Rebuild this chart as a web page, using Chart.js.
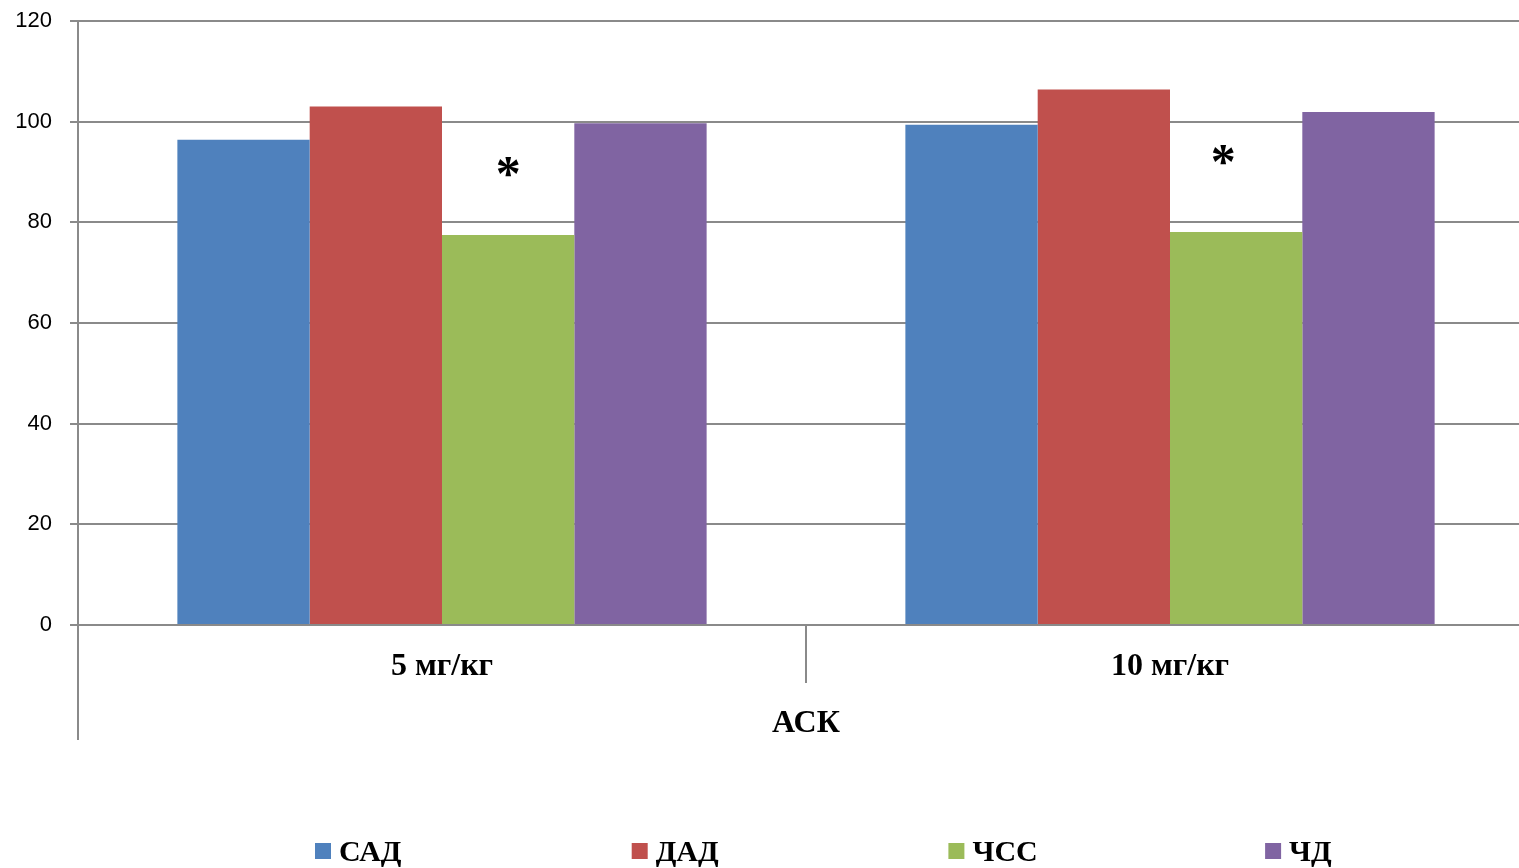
<!DOCTYPE html>
<html lang="ru">
<head>
<meta charset="utf-8">
<title>АСК</title>
<script src="https://cdn.jsdelivr.net/npm/chart.js@4.4.1/dist/chart.umd.min.js"></script>
<style>
  html, body { margin: 0; padding: 0; background: #fff; overflow: hidden; }
  #wrap { width: 1534px; height: 868px; }
</style>
</head>
<body>
<div id="wrap"><canvas id="c" width="1534" height="868"></canvas></div>
<script>
// Categories (dose) and axis title
const categories = ['5 мг/кг', '10 мг/кг'];
const axisTitle = 'АСК';

// Series values, % of baseline
const sad = [96.4, 99.4];   // САД
const dad = [103.0, 106.4]; // ДАД
const chss = [77.5, 78.1];  // ЧСС
const chd = [99.7, 101.9];  // ЧД

const seriesNames = ['САД', 'ДАД', 'ЧСС', 'ЧД'];
const seriesColors = ['#4F81BD', '#C0504D', '#9BBB59', '#8064A2'];

// Significance marks per series (one entry per category)
const chssMarks = ['*', '*'];

// Y-axis ticks
const yTicks = [0, 20, 40, 60, 80, 100, 120];

const gridColor = '#8a8a8a';
const serif = '"Liberation Serif", "Times New Roman", serif';

const datasets = [sad, dad, chss, chd].map((vals, i) => ({
  label: seriesNames[i],
  data: vals,
  backgroundColor: seriesColors[i],
  borderWidth: 0,
  marks: i === 2 ? chssMarks : null
}));

// Draws the asterisks above marked bars, the axis extension line and the legend row
const extras = {
  id: 'extras',
  afterDatasetsDraw(chart, args, opts) {
    const ctx = chart.ctx;
    const size = 50;
    ctx.save();
    ctx.fillStyle = '#000';
    ctx.font = 'bold ' + size + 'px ' + serif;
    ctx.textAlign = 'center';
    ctx.textBaseline = 'alphabetic';
    chart.data.datasets.forEach((ds, di) => {
      if (!ds.marks) return;
      const meta = chart.getDatasetMeta(di);
      meta.data.forEach((bar, j) => {
        if (!ds.marks[j]) return;
        ctx.fillText(ds.marks[j], bar.x + opts.shift[j], bar.y - opts.lift[j] + 0.45 * size);
      });
    });
    ctx.restore();
  },
  afterDraw(chart, args, opts) {
    const ctx = chart.ctx;
    const area = chart.chartArea;
    ctx.save();
    // left axis continues down past the category labels
    ctx.strokeStyle = gridColor;
    ctx.lineWidth = 2;
    ctx.beginPath();
    ctx.moveTo(area.left, area.bottom);
    ctx.lineTo(area.left, opts.axisBottom);
    ctx.stroke();

    // legend
    ctx.font = 'bold 30px ' + serif;
    ctx.textAlign = 'left';
    ctx.textBaseline = 'alphabetic';
    chart.data.datasets.forEach((ds, i) => {
      const x = opts.legendStart + i * opts.legendStep;
      ctx.fillStyle = ds.backgroundColor;
      ctx.fillRect(x, opts.legendY, 16, 16);
      ctx.fillStyle = '#000';
      ctx.fillText(ds.label, x + 24, opts.legendY + 18);
    });
    ctx.restore();
  }
};

new Chart(document.getElementById('c'), {
  type: 'bar',
  data: { labels: categories, datasets },
  plugins: [extras],
  options: {
    responsive: false,
    animation: false,
    layout: { padding: { top: 21, left: 0, right: 0, bottom: 0 } },
    datasets: { bar: { categoryPercentage: 0.727, barPercentage: 1.0 } },
    plugins: {
      legend: { display: false },
      tooltip: { enabled: false },
      extras: {
        lift: [67, 76],
        shift: [0, -13],
        axisBottom: 740,
        legendStart: 315,
        legendStep: 316.7,
        legendY: 843
      }
    },
    scales: {
      x: {
        offset: true,
        afterFit(scale) { scale.height = 243; },
        grid: {
          offset: true,
          drawOnChartArea: false,
          drawTicks: true,
          tickLength: 58,
          color: gridColor,
          lineWidth: 2
        },
        border: { display: true, color: gridColor, width: 2 },
        ticks: {
          color: '#000',
          font: { family: serif, size: 32, weight: 'bold' },
          padding: -35,
          maxRotation: 0
        },
        title: {
          display: true,
          text: axisTitle,
          color: '#000',
          font: { family: serif, size: 32, weight: 'bold' },
          padding: { top: 0, bottom: 125 }
        }
      },
      y: {
        min: 0,
        max: 120,
        afterFit(scale) {
          scale.width = 78;
          scale.paddingTop = 0;
          scale.paddingBottom = 0;
        },
        afterBuildTicks(scale) { scale.ticks = yTicks.map(v => ({ value: v })); },
        grid: {
          color: gridColor,
          lineWidth: 2,
          drawTicks: true,
          tickLength: 8
        },
        border: { display: true, color: gridColor, width: 2 },
        ticks: {
          color: '#000',
          font: { family: '"Liberation Sans", Arial, sans-serif', size: 22 },
          padding: 18
        }
      }
    }
  }
});
</script>
</body>
</html>
